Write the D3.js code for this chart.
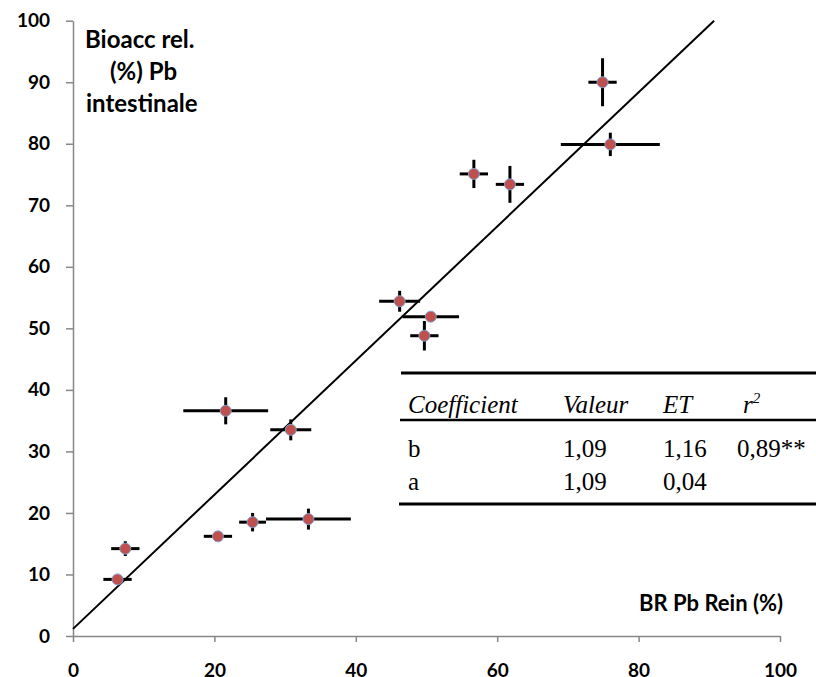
<!DOCTYPE html>
<html><head><meta charset="utf-8">
<script src="https://cdn.jsdelivr.net/npm/d3@7"></script>
<style>body{margin:0;background:#fff}svg{display:block}</style>
</head><body>
<svg id="c" width="816" height="677"></svg>
<script>
// Data
const brRein   = [6.3, 7.4, 20.5, 25.4, 33.3, 21.6, 30.8, 74.9, 76.0, 56.7, 61.8, 46.2, 50.6, 49.7];
const bioacc   = [9.2, 14.2, 16.2, 18.5, 19.0, 36.6, 33.5, 90.0, 79.9, 75.1, 73.4, 54.4, 51.9, 48.8];
const errX     = [2.0, 2.0, 2.0, 1.9, 6.0, 6.0, 2.9, 2.0, 7.0, 2.0, 2.0, 2.9, 4.0, 2.0];
const errY     = [0.6, 1.2, 0.4, 1.5, 1.7, 2.2, 1.7, 3.9, 1.9, 2.3, 3.0, 1.7, 0.4, 2.4];
const xTicks   = [0, 20, 40, 60, 80, 100];
const yTicks   = [0, 10, 20, 30, 40, 50, 60, 70, 80, 90, 100];
const fitSlope = 1.09, fitIntercept = 1.16;
const tableHeader = ["Coefficient", "Valeur", "ET", "r"];
const tableRows = [["b", "1,09", "1,16", "0,89**"], ["a", "1,09", "0,04", ""]];

const svg = d3.select("#c");
const x = d3.scaleLinear().domain([0, 100]).range([73, 780]);
const y = d3.scaleLinear().domain([0, 100]).range([636, 20.7]);
const axisFont = "Lato, 'Open Sans', sans-serif";
const axisColor = "#878787";

// Axes
const gx = svg.append("g").attr("transform", `translate(0,${y(0)})`)
  .call(d3.axisBottom(x).tickValues(xTicks).tickSize(6).tickPadding(22).tickSizeOuter(0));
const gy = svg.append("g").attr("transform", `translate(${x(0)},0)`)
  .call(d3.axisLeft(y).tickValues(yTicks).tickSize(7).tickPadding(16).tickSizeOuter(0));
[gx, gy].forEach(g => {
  g.select(".domain").attr("stroke", axisColor).attr("stroke-width", 1.5);
  g.selectAll(".tick line").attr("stroke", axisColor).attr("stroke-width", 1.5);
  g.selectAll(".tick text").attr("fill", "#000").style("font-family", axisFont)
    .style("font-weight", "bold").style("font-size", "19px");
});

// Regression line, clipped to plot
const xEnd = (100 - fitIntercept) / fitSlope;
svg.append("line")
  .attr("x1", x(0)).attr("y1", y(fitIntercept))
  .attr("x2", x(xEnd)).attr("y2", y(100))
  .attr("stroke", "#000").attr("stroke-width", 2);

// Error bars
const pts = brRein.map((v, i) => ({x: v, y: bioacc[i], ex: errX[i], ey: errY[i]}));
const eb = svg.append("g").attr("stroke", "#000").attr("stroke-width", 3);
eb.selectAll(".h").data(pts).join("line")
  .attr("x1", d => x(d.x - d.ex)).attr("x2", d => x(d.x + d.ex))
  .attr("y1", d => y(d.y)).attr("y2", d => y(d.y));
eb.selectAll(".v").data(pts).join("line")
  .attr("x1", d => x(d.x)).attr("x2", d => x(d.x))
  .attr("y1", d => y(d.y - d.ey)).attr("y2", d => y(d.y + d.ey));

// Markers
svg.append("g").selectAll("circle").data(pts).join("circle")
  .attr("cx", d => x(d.x)).attr("cy", d => y(d.y)).attr("r", 5.5)
  .attr("fill", "#C0504D").attr("stroke", "#7F9FD0").attr("stroke-width", 1);

// Axis titles
const yt = svg.append("text").attr("font-family", axisFont)
  .attr("font-weight", "bold").attr("font-size", "24px").attr("fill", "#000");
yt.append("tspan").attr("x", 85).attr("y", 48).text("Bioacc  rel.");
yt.append("tspan").attr("x", 110).attr("y", 80).text("(%) Pb");
yt.append("tspan").attr("x", 86).attr("y", 112).text("intestinale");
svg.append("text").attr("x", 783).attr("y", 611).attr("text-anchor", "end")
  .attr("font-family", axisFont).attr("font-weight", "bold").attr("font-size", "22px")
  .text("BR Pb Rein (%)");

// Table
const serif = "'Liberation Serif', 'Times New Roman', serif";
const colX = [408, 563, 663, 737];
svg.append("line").attr("x1", 401).attr("x2", 816).attr("y1", 373).attr("y2", 373)
  .attr("stroke", "#000").attr("stroke-width", 3);
svg.append("line").attr("x1", 400).attr("x2", 816).attr("y1", 420).attr("y2", 420)
  .attr("stroke", "#000").attr("stroke-width", 2.5);
svg.append("line").attr("x1", 399).attr("x2", 816).attr("y1", 504).attr("y2", 504)
  .attr("stroke", "#000").attr("stroke-width", 3);
const hdr = svg.append("g").attr("font-family", serif).attr("font-size", "25px").attr("font-style", "italic");
tableHeader.forEach((t, i) => {
  const tx = hdr.append("text").attr("x", colX[i] + (i === 3 ? 6 : 0)).attr("y", 413).text(t);
  if (i === 3) tx.append("tspan").attr("dy", -10).attr("font-size", "15px").text("2");
});
const body = svg.append("g").attr("font-family", serif).attr("font-size", "25px");
tableRows.forEach((row, r) => {
  row.forEach((t, i) => {
    body.append("text").attr("x", colX[i]).attr("y", 457 + r * 33).text(t);
  });
});
</script>
</body></html>
